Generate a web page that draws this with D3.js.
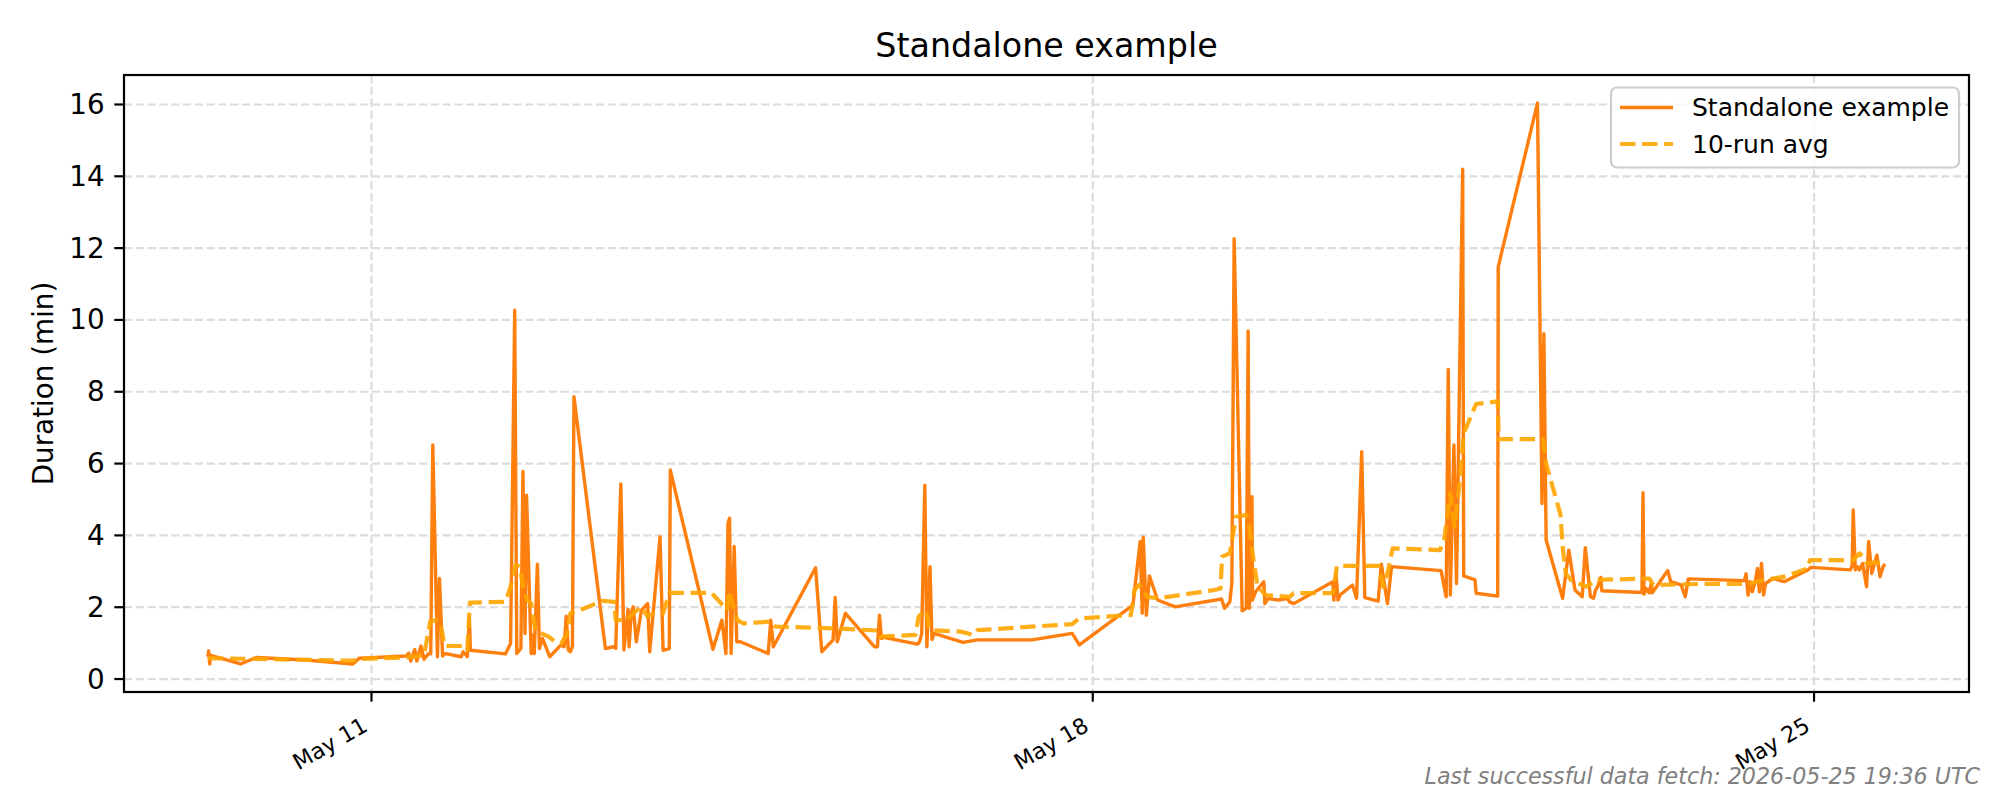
<!DOCTYPE html>
<html><head><meta charset="utf-8">
<script src="https://cdn.jsdelivr.net/npm/d3@7"></script>
<style>
body{margin:0;background:#fff}
text{font-family:"DejaVu Sans",sans-serif;fill:#000}
</style>
</head><body>
<svg id="chart" width="2000" height="800"></svg>
<script>
// ---- data (day of May 2026, UTC, fractional) ----
const runDays = [9.412,9.42,9.43,9.44,9.73,9.88,10.36,10.82,10.88,11.34,
 11.36,11.38,11.42,11.44,11.48,11.51,11.55,11.575,11.595,11.64,11.66,11.69,11.72,11.87,11.89,11.93,11.95,11.96,
 12.30,12.35,12.39,12.41,12.45,12.47,12.49,12.505,12.55,12.57,12.58,12.61,12.63,12.66,12.73,12.84,12.87,12.89,12.91,12.93,12.95,12.965,
 13.27,13.355,13.37,13.42,13.45,13.49,13.50,13.52,13.54,13.57,13.62,13.68,13.70,13.80,13.83,13.89,13.90,
 14.314,14.40,14.44,14.46,14.475,14.49,14.52,14.545,14.58,14.85,14.875,14.90,
 15.31,15.37,15.48,15.50,15.52,15.60,15.88,15.91,15.93,15.95,15.97,
 16.30,16.32,16.34,16.37,16.39,16.42,16.44,16.46,16.74,16.88,17.41,17.80,17.87,
 18.39,18.41,18.46,18.48,18.49,18.52,18.55,18.63,18.80,19.25,19.28,19.33,19.35,19.372,19.45,19.49,19.508,19.52,19.545,19.55,19.58,19.66,19.67,19.70,19.80,19.89,19.91,19.95,
 20.33,20.34,20.36,20.38,20.40,20.52,20.56,20.61,20.64,20.77,20.80,20.86,20.90,
 21.38,21.43,21.45,21.47,21.505,21.53,21.59,21.60,21.71,21.72,21.93,21.935,
 22.316,22.36,22.378,22.40,22.56,22.62,22.68,22.75,22.78,22.83,22.86,22.88,22.90,22.93,22.94,
 23.33,23.34,23.35,23.37,23.40,23.42,23.43,23.58,23.61,23.71,23.75,23.78,
 24.325,24.34,24.36,24.38,24.40,24.43,24.45,24.47,24.49,24.51,24.53,24.60,24.71,24.94,24.97,
 25.35,25.37,25.38,25.40,25.42,25.44,25.47,25.51,25.53,25.56,25.61,25.64,25.67,25.69];
const runMinutes = [0.62,0.78,0.42,0.66,0.42,0.60,0.53,0.42,0.58,0.64,
 0.72,0.50,0.82,0.50,0.92,0.55,0.70,0.70,6.52,0.62,2.80,0.64,0.71,0.62,0.76,0.62,1.70,0.80,
 0.70,0.99,10.27,0.71,0.85,5.78,1.27,5.12,0.71,1.23,0.71,3.20,0.85,1.13,0.62,0.95,0.90,1.75,0.81,0.76,0.90,7.86,
 0.85,0.90,0.85,5.43,0.81,1.94,0.90,1.83,2.01,1.04,1.92,2.10,0.76,3.96,0.80,0.85,5.82,
 0.83,1.64,0.71,4.34,4.48,0.71,3.69,1.04,1.04,0.71,1.64,0.90,
 3.10,0.76,1.09,2.27,1.04,1.83,0.90,0.90,1.78,1.13,1.16,
 0.97,1.04,1.27,5.40,0.90,3.13,1.10,1.27,1.02,1.09,1.09,1.27,0.95,
 2.06,2.57,3.83,1.83,3.95,1.78,2.87,2.20,2.01,2.23,1.97,2.15,2.66,12.26,1.90,1.97,9.69,1.97,5.08,2.20,2.43,2.71,2.10,2.24,2.20,2.24,2.15,2.10,
 2.71,2.20,2.96,2.20,2.34,2.62,2.25,6.33,2.27,2.17,3.20,2.10,3.13,
 3.02,2.29,8.62,2.34,6.52,2.66,14.20,2.87,2.76,2.39,2.31,11.48,
 16.04,4.89,9.62,3.87,2.25,3.59,2.48,2.29,3.66,2.29,2.25,2.48,2.57,2.83,2.46,
 2.41,5.19,2.36,2.52,2.40,2.66,2.40,3.02,2.71,2.62,2.29,2.79,
 2.74,2.93,2.34,2.71,2.43,2.71,3.08,2.43,3.22,2.34,2.66,2.80,2.71,3.04,3.11,
 3.04,3.15,4.71,3.04,3.13,3.04,3.22,2.57,3.83,2.94,3.45,2.85,3.13,3.20];

const avgDays = [9.412,9.88,10.82,10.88,11.34,11.51,11.57,11.63,11.67,11.71,11.88,11.93,11.955,
 12.30,12.35,12.40,12.44,12.47,12.51,12.55,12.59,12.65,12.72,12.78,12.84,12.90,12.93,12.98,
 13.07,13.24,13.355,13.37,13.47,13.54,13.62,13.68,13.74,13.83,13.89,
 14.30,14.45,14.47,14.55,14.61,14.875,14.92,15.50,15.92,15.94,
 16.28,16.31,16.38,16.41,16.44,16.72,16.84,16.88,17.80,17.87,
 18.37,18.405,18.45,18.53,18.64,19.18,19.24,19.255,19.33,19.39,19.49,19.52,19.56,19.60,19.68,19.91,19.95,
 20.33,20.37,20.78,20.82,20.86,20.91,21.37,21.41,21.47,21.51,21.56,21.60,21.72,21.93,21.94,
 22.37,22.40,22.54,22.56,22.59,22.64,22.79,22.86,22.88,23.40,23.44,23.94,
 24.36,24.52,24.71,24.94,24.96,25.38,25.44,25.48,25.51,25.60,25.69];
const avgMinutes = [0.58,0.56,0.51,0.56,0.60,0.66,1.60,1.64,1.55,0.92,0.92,0.81,2.13,
 2.15,2.57,3.18,3.13,2.57,2.20,2.10,1.36,1.27,1.18,1.04,0.99,1.27,1.83,1.88,
 1.97,2.18,2.15,1.64,1.64,1.83,2.01,1.74,1.83,1.83,2.40,
 2.40,1.92,2.45,1.64,1.55,1.60,1.46,1.41,1.35,1.18,
 1.23,1.74,1.92,1.46,1.36,1.32,1.23,1.36,1.53,1.69,
 1.78,2.48,2.62,2.29,2.25,2.48,2.52,3.41,3.50,4.52,4.57,4.24,3.31,2.57,2.34,2.29,2.39,
 2.39,3.15,3.15,2.57,2.94,3.64,3.59,3.87,5.17,4.24,5.45,6.84,7.66,7.73,6.68,
 6.68,6.00,4.57,3.69,2.94,2.76,2.57,2.71,2.76,2.80,2.62,2.65,
 2.65,2.76,2.85,3.08,3.31,3.31,3.50,3.40,3.22,3.25,3.20];

const xTickDays = [11, 18, 25];
const yTickValues = [0, 2, 4, 6, 8, 10, 12, 14, 16];
const seriesNames = ["Standalone example", "10-run avg"];
const titleText = "Standalone example";
const yLabelText = "Duration (min)";
const footnoteText = "Last successful data fetch: 2026-05-25 19:36 UTC";

// ---- helpers ----
const toDate = d => new Date(Date.UTC(2026, 4, 1) + (d - 1) * 864e5);
const run = runDays.map((d, i) => ({t: toDate(d), v: runMinutes[i]}));
const avg = avgDays.map((d, i) => ({t: toDate(d), v: avgMinutes[i]}));

const L = 124, R = 1969, T = 75, B = 692;
const svg = d3.select("#chart");
svg.append("rect").attr("width", 2000).attr("height", 800).attr("fill", "#fff");

const allT = run.concat(avg).map(p => +p.t);
const tMin = d3.min(allT), tMax = d3.max(allT), tPad = (tMax - tMin) * 0.05;
const x = d3.scaleUtc().domain([new Date(tMin - tPad), new Date(tMax + tPad)]).range([L, R]);
const allV = run.concat(avg).map(p => p.v);
const vMin = d3.min(allV), vMax = d3.max(allV), vPad = (vMax - vMin) * 0.05;
const y = d3.scaleLinear().domain([vMin - vPad, vMax + vPad]).range([B, T]);

const xTicks = xTickDays.map(toDate);
const fmt = d3.utcFormat("%b %d");

// grid
const grid = svg.append("g").attr("stroke", "#dcdcdc").attr("stroke-width", 2.2).attr("stroke-dasharray", "8.2,3.6");
grid.selectAll(".gy").data(yTickValues).join("line")
  .attr("x1", L).attr("x2", R).attr("y1", d => y(d)).attr("y2", d => y(d));
grid.selectAll(".gx").data(xTicks).join("line")
  .attr("x1", d => x(d)).attr("x2", d => x(d)).attr("y1", T).attr("y2", B);

// lines
const lineGen = d3.line().x(d => x(d.t)).y(d => y(d.v));
svg.append("path").datum(run).attr("d", lineGen)
  .attr("fill", "none").attr("stroke", "#ff7f0e").attr("stroke-width", 3.4)
  .attr("stroke-linejoin", "round");
svg.append("path").datum(avg).attr("d", lineGen)
  .attr("fill", "none").attr("stroke", "#ffa500").attr("stroke-opacity", 0.9).attr("stroke-width", 4.2)
  .attr("stroke-dasharray", "15.4,6.7").attr("stroke-linejoin", "round");

// spines
svg.append("rect").attr("x", L).attr("y", T).attr("width", R - L).attr("height", B - T)
  .attr("fill", "none").attr("stroke", "#000").attr("stroke-width", 2.2);

// y axis ticks
const yAxis = svg.append("g");
yAxis.selectAll("line").data(yTickValues).join("line")
  .attr("x1", L - 9.7).attr("x2", L).attr("y1", d => y(d)).attr("y2", d => y(d))
  .attr("stroke", "#000").attr("stroke-width", 2.2);
yAxis.selectAll("text").data(yTickValues).join("text")
  .attr("x", L - 19.4).attr("y", d => y(d)).attr("text-anchor", "end")
  .attr("dominant-baseline", "central").attr("font-size", 27.8).text(d => d);

// x axis ticks
const xAxis = svg.append("g");
xAxis.selectAll("line").data(xTicks).join("line")
  .attr("x1", d => x(d)).attr("x2", d => x(d)).attr("y1", B).attr("y2", B + 9.7)
  .attr("stroke", "#000").attr("stroke-width", 2.2);
xAxis.selectAll("text").data(xTicks).join("text")
  .attr("x", d => x(d) - 2.6).attr("y", B + 38).attr("text-anchor", "end")
  .attr("font-size", 22.2)
  .attr("transform", d => `rotate(-30, ${x(d) - 2.6}, ${B + 38})`)
  .text(d => fmt(d));

// title, labels
svg.append("text").attr("x", (L + R) / 2).attr("y", 57).attr("text-anchor", "middle")
  .attr("font-size", 33.3).text(titleText);
svg.append("text").attr("transform", `translate(43, ${(T + B) / 2}) rotate(-90)`)
  .attr("text-anchor", "middle").attr("dominant-baseline", "central")
  .attr("font-size", 27.8).text(yLabelText);
svg.append("text").attr("x", 1980).attr("y", 784).attr("text-anchor", "end")
  .attr("font-size", 22.2).attr("font-style", "italic").style("fill", "#808080").text(footnoteText);

// legend
const lg = svg.append("g");
lg.append("rect").attr("x", 1611).attr("y", 87.5).attr("width", 348).attr("height", 80).attr("rx", 6)
  .attr("fill", "#fff").attr("fill-opacity", 0.8).attr("stroke", "#cccccc").attr("stroke-width", 2.2);
const legendRows = [
  {name: seriesNames[0], color: "#ff7f0e", w: 3.4, dash: null, op: 1, yy: 107.5},
  {name: seriesNames[1], color: "#ffa500", w: 4.2, dash: "15.4,6.7", op: 0.9, yy: 144}
];
legendRows.forEach(r => {
  lg.append("line").attr("x1", 1620).attr("x2", 1673).attr("y1", r.yy).attr("y2", r.yy)
    .attr("stroke", r.color).attr("stroke-width", r.w).attr("stroke-opacity", r.op)
    .attr("stroke-dasharray", r.dash);
  lg.append("text").attr("x", 1692).attr("y", r.yy).attr("dominant-baseline", "central")
    .attr("font-size", 25).text(r.name);
});
</script>
</body></html>
